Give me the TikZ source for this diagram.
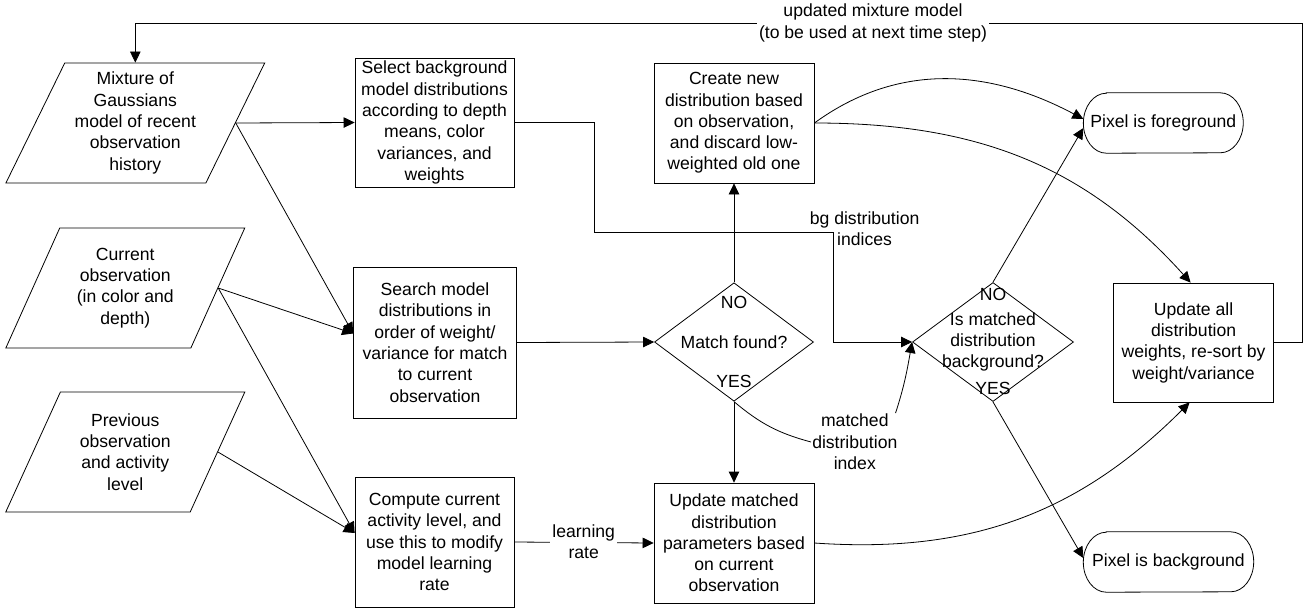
\documentclass[tikz,border=0pt]{standalone}
\usepackage{fontspec}
\setmainfont{Liberation Sans}
\usetikzlibrary{shapes.geometric,arrows.meta,calc}
\begin{document}
\begin{tikzpicture}[x=1pt,y=-1pt,
  font=\fontsize{17.6}{21.3}\selectfont,
  every node/.style={align=center,inner sep=1pt},
  wire/.style={line width=0.8pt},
  flow/.style={wire,-{Triangle[length=11pt,width=10.5pt]}},
  procbox/.style={draw,line width=0.8pt,rectangle,inner sep=2pt},
  iobox/.style={draw,line width=0.8pt,trapezium,trapezium left angle=63.6,
    trapezium right angle=116.4,trapezium stretches=true,minimum height=120pt,inner sep=1pt},
  decision/.style={draw,line width=0.8pt,diamond,inner sep=0pt},
  terminal/.style={rectangle,inner sep=1pt,minimum height=60pt},
  tag/.style={inner sep=1pt},
]
\fill[white] (0,0) rectangle (1307,611);
\useasboundingbox (0,0) rectangle (1307,611);

% inputs
\node[iobox,minimum width=259.5pt] (mix) at (135.3,123)
  {Mixture of\\Gaussians\\model of recent\\observation\\history};
\node[iobox,minimum width=239.5pt] (cur) at (125.3,288)
  {Current\\observation\\(in color and\\depth)};
\node[iobox,minimum width=239.5pt] (prev) at (125.3,452)
  {Previous\\observation\\and activity\\level};

% processing steps
\node[procbox,minimum width=159pt,minimum height=129pt] (sel) at (434.5,122.5)
  {Select background\\model distributions\\according to depth\\means, color\\variances, and\\weights};
\node[procbox,minimum width=163pt,minimum height=151pt] (srch) at (435,342.5)
  {Search model\\distributions in\\order of weight/\\variance for match\\to current\\observation};
\node[procbox,minimum width=159pt,minimum height=130pt] (comp) at (434.5,542)
  {Compute current\\activity level, and\\use this to modify\\model learning\\rate};
\node[procbox,minimum width=160pt,minimum height=120pt] (crt) at (734,123)
  {Create new\\distribution based\\on observation,\\and discard low-\\weighted old one};
\node[procbox,minimum width=160pt,minimum height=120pt] (updm) at (734,543)
  {Update matched\\distribution\\parameters based\\on current\\observation};
\node[procbox,minimum width=160pt,minimum height=119pt] (upda) at (1193.6,342.5)
  {Update all\\distribution\\weights, re-sort by\\weight/variance};

% decisions
\node[decision,minimum width=159pt,minimum height=118.5pt] (d1) at (734,342) {};
\node[tag] (d1no) at (734,302) {NO};
\node[tag] (d1q) at (734,342) {Match found?};
\node[tag] (d1yes) at (734,381) {YES};

\node[decision,minimum width=161pt,minimum height=119pt] (d2) at (993,342) {};
\node[tag] (d2no) at (993,294) {NO};
\node[tag] (d2q) at (993,342) {Is matched\\distribution\\background?};
\node[tag] (d2yes) at (993,388) {YES};

% outcomes
\node[terminal,minimum width=159.5pt] (pfg) at (1163.3,123) {Pixel is foreground};
\node[terminal,minimum width=170pt] (pbg) at (1168.5,562) {Pixel is background};
\foreach \t in {pfg,pbg}
  \draw[wire] ($(\t.north west)+(23,0)$) -- ($(\t.north east)+(-23,0)$)
    arc[start angle=90,end angle=-90,x radius=23pt,y radius=30pt]
    -- ($(\t.south west)+(23,0)$)
    arc[start angle=270,end angle=90,x radius=23pt,y radius=30pt] -- cycle;

% feedback loop
\coordinate (fb) at (1302.7,23);
\draw[flow] (upda.east) -| (fb) -| (mix.north);
\node[tag,fill=white,inner sep=2pt] (fbl) at (873,23)
  {updated mixture model\\(to be used at next time step)};

% inputs to steps
\draw[flow] (mix.east) -- (sel.west);
\draw[flow] (mix.east) -- ($(srch.west)+(0,-9)$);
\draw[flow] (cur.east) -- ($(srch.west)+(0,-9)$);
\draw[flow] (cur.east) -- ($(comp.west)+(0,-9)$);
\draw[flow] (prev.east) -- ($(comp.west)+(0,-9)$);

% main flow
\draw[flow] (srch.east) -- (d1.west);
\draw[flow] (d1.north) -- (crt.south);
\draw[flow] (d1.south) -- (updm.north);

\coordinate (bga) at (594,232);
\coordinate (bgb) at (833.5,232);
\draw[flow] (sel.east) -| (bga) -- (bgb) |- (d2.west);
\node[tag] (bgl) at (864.6,229) {bg distribution\\indices};

\draw[flow] (comp.east) -- (updm.west);
\node[tag,fill=white,inner sep=2pt] (lr) at (583.7,542) {learning\\rate};

\draw[flow] (crt.east) to[out=36,in=152] ($(pfg.west)+(0,-4)$);
\draw[flow] (crt.east) to[out=0,in=132] ($(upda.north)+(-3,0)$);
\draw[flow] (updm.east) to[out=-4,in=-135] ($(upda.south)+(-4,0)$);

\draw[flow] (d2.north) -- ($(pfg.west)+(0,5)$);
\draw[flow] (d2.south) -- ($(pbg.west)+(0,-4)$);

\node[tag] (mdi) at (854.8,442) {matched\\distribution\\index};
\draw[wire] (d1.south) to[out=-40,in=165] (mdi.west);
\draw[flow] ($(mdi.north east)+(-3,0)$) to[out=72,in=-100] (d2.west);
\end{tikzpicture}
\end{document}
